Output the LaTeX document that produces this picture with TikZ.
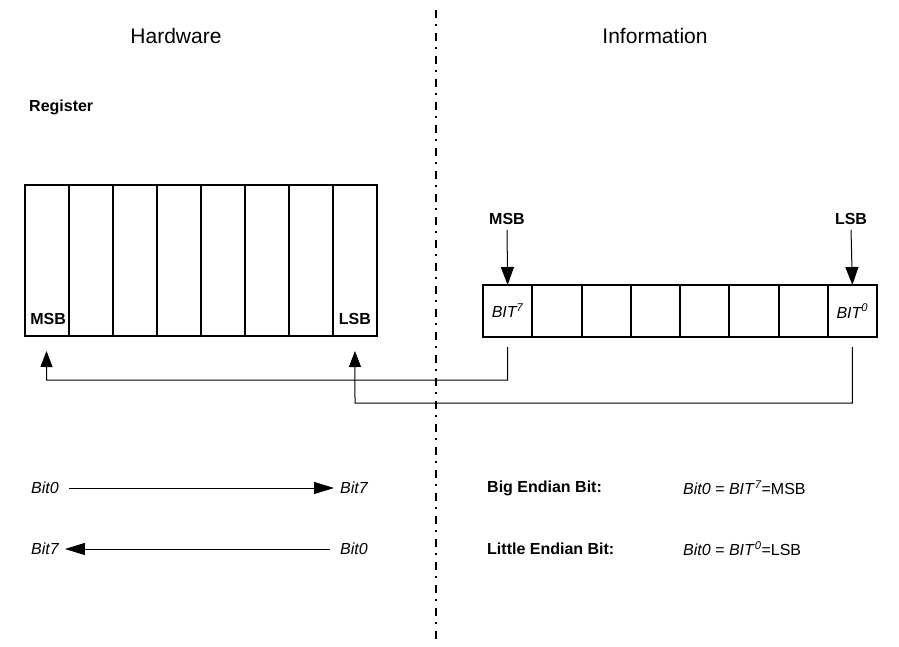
\documentclass[tikz,border=0pt]{standalone}
\usepackage{fontspec}
\setmainfont{Liberation Sans}
\usetikzlibrary{arrows.meta,calc}
\begin{document}
\begin{tikzpicture}[x=1pt,y=-1pt,
  thinline/.style={line width=1pt,black},
  regcell/.style={draw,line width=2pt,minimum width=44.06pt,minimum height=151pt,inner sep=0pt,outer sep=0pt,anchor=north west},
  infocell/.style={draw,line width=2pt,minimum width=49.25pt,minimum height=52pt,inner sep=0pt,outer sep=0pt,anchor=north west},
  titletext/.style={font=\fontsize{21}{24}\selectfont,inner sep=0pt},
  boldlab/.style={font=\bfseries\fontsize{16}{18}\selectfont,inner sep=0pt},
  itlab/.style={font=\itshape\fontsize{16}{18}\selectfont,inner sep=0pt},
  formula/.style={font=\fontsize{16}{18}\selectfont,inner sep=0pt},
  upa/.style={thinline,-{Triangle[length=16pt,width=12pt]}},
  downa/.style={thinline,-{Triangle[length=18pt,width=13pt]}},
  longa/.style={thinline,-{Triangle[length=20pt,width=12pt]}},
  divider/.style={line width=2pt,dash pattern=on 8pt off 6pt on 2pt off 7pt}
]
\useasboundingbox[fill=white] (0,0) rectangle (899,647);

% divider
\coordinate (dtop) at (436,10);
\coordinate (dbot) at (436,640);
\draw[divider] (dtop) -- (dbot);

% titles
\node[titletext] (hw) at (176,36) {Hardware};
\node[titletext] (inf) at (655,36) {Information};
\node[boldlab,anchor=west] (reg) at (29,107) {Register};

% register
\foreach \i in {1,...,8}
  \node[regcell] (r\i) at ({24.5+(\i-1)*44.06},185) {};
\node[boldlab] (rmsb) at ($(r1.south)+(1.5,-17)$) {MSB};
\node[boldlab] (rlsb) at ($(r8.south)+(0,-17)$) {LSB};

% information
\foreach \i in {1,...,8}
  \node[infocell] (i\i) at ({483+(\i-1)*49.25},285) {};
\node[itlab] (b7) at (i1.center) {BIT\textsuperscript{7}};
\node[itlab] (b0) at (i8.center) {BIT\textsuperscript{0}};

\node[boldlab] (imsb) at (507,219) {MSB};
\node[boldlab] (ilsb) at (851,219) {LSB};
\draw[downa] ($(imsb.south)+(0,5)$) -- (i1.north);
\draw[downa] ($(ilsb.south)+(0,5)$) -- (i8.north);

% connectors
\draw[upa] ($(i1.south)+(0,10)$) |- (46.5,380) -- ($(r1.south)+(0,15)$);
\draw[upa] ($(i8.south)+(0,10)$) |- (355,403) -- ($(r8.south)+(0,15)$);

% bottom rows
\node[itlab,anchor=west] (a0) at (31,488) {Bit0};
\node[itlab,anchor=west] (a7) at (340,488) {Bit7};
\draw[longa] ($(a0.east)+(10,0)$) -- ($(a7.west)+(-6,0)$);

\node[itlab,anchor=west] (c7) at (31,549) {Bit7};
\node[itlab,anchor=west] (c0) at (340,549) {Bit0};
\draw[longa] ($(c0.west)+(-10,0)$) -- ($(c7.east)+(6,0)$);

\node[boldlab,anchor=west] (big) at (487,488) {Big Endian Bit:};
\node[formula,anchor=west] (bigf) at (683,488) {\textit{Bit0 = BIT}\textsuperscript{\itshape 7}=MSB};
\node[boldlab,anchor=west] (lit) at (487,549) {Little Endian Bit:};
\node[formula,anchor=west] (litf) at (683,549) {\textit{Bit0 = BIT}\textsuperscript{\itshape 0}=LSB};
\end{tikzpicture}
\end{document}
